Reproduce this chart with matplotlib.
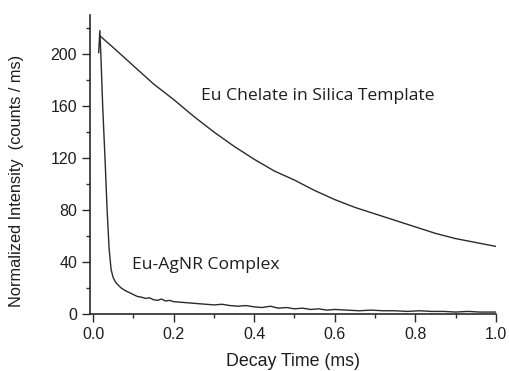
import matplotlib

matplotlib.use("Agg")

import matplotlib.pyplot as plt
from matplotlib import ticker

LINE = "#2B2B2B"
TEXT = "#1E1E1E"

# Eu chelate in silica template (slow decay)
chelate_t = [0.017, 0.05, 0.10, 0.15, 0.20, 0.25, 0.30, 0.35, 0.40, 0.45, 0.50,
             0.55, 0.60, 0.65, 0.70, 0.75, 0.80, 0.85, 0.90, 0.95, 1.00]
chelate_i = [214, 205, 191, 177, 165, 152, 140, 129, 119, 110, 103,
             95, 88, 82, 77, 72, 67, 62, 58, 55, 52]

# Eu-AgNR complex (fast decay, noisy tail)
agnr_t = [0.014, 0.017, 0.020, 0.024, 0.030, 0.035, 0.040, 0.045, 0.050, 0.055, 0.06,
          0.07, 0.08, 0.09, 0.10, 0.11, 0.12, 0.13, 0.14, 0.15, 0.16, 0.17, 0.18,
          0.19, 0.20, 0.22, 0.24, 0.26, 0.28, 0.30, 0.32, 0.34, 0.36, 0.38, 0.40,
          0.42, 0.44, 0.46, 0.48, 0.50, 0.52, 0.54, 0.56, 0.58, 0.60, 0.63, 0.66,
          0.69, 0.72, 0.75, 0.78, 0.81, 0.84, 0.87, 0.90, 0.93, 0.96, 1.00]
agnr_i = [201, 218, 195, 160, 118, 80, 50, 34, 28, 25, 23,
          20, 18, 16.5, 15, 13.5, 13, 12, 12.5, 11, 10.5, 11.5, 10,
          10.5, 9.5, 9, 8.5, 8, 7.5, 7, 7.5, 6.5, 6, 6.5, 5.5,
          5, 6, 4.5, 5, 4, 4.5, 3.5, 4, 3, 3.5, 3, 2.5,
          3, 2.5, 2.5, 2, 2.5, 2, 2, 1.5, 2, 1.5, 1.5]

X_TICKS = [0.0, 0.2, 0.4, 0.6, 0.8, 1.0]
Y_TICKS = [0, 40, 80, 120, 160, 200]

plt.rcParams.update({
    "font.family": ["Liberation Sans", "DejaVu Sans"],
    "font.size": 11.5,
    "axes.edgecolor": LINE,
    "xtick.color": LINE,
    "ytick.color": LINE,
})

fig = plt.figure(figsize=(5.10, 3.71), dpi=100)
ax = fig.add_axes([0.1755, 0.1536, 0.797, 0.806])

ax.plot(chelate_t, chelate_i, color=LINE, lw=1.0)
ax.plot(agnr_t, agnr_i, color=LINE, lw=1.0)

ax.set_xlim(-0.0087, 1.0)
ax.set_ylim(0, 230)
ax.set_xticks(X_TICKS)
ax.set_yticks(Y_TICKS)
ax.xaxis.set_major_formatter(ticker.FormatStrFormatter("%.1f"))
ax.xaxis.set_minor_locator(ticker.MultipleLocator(0.1))
ax.yaxis.set_minor_locator(ticker.MultipleLocator(20))
ax.tick_params(which="major", direction="out", length=5.5, width=1, labelsize=11.5, colors=LINE,
               labelcolor=TEXT)
ax.tick_params(which="minor", direction="out", length=3, width=1, colors=LINE)

for side in ("top", "right"):
    ax.spines[side].set_visible(False)
for side in ("left", "bottom"):
    ax.spines[side].set_linewidth(1.2)

fig.text(293.5 / 510, 1 - 361 / 371, "Decay Time (ms)", fontsize=12.8, color=TEXT,
         ha="center", va="center")
fig.text(17 / 510, 1 - 181 / 371, "Normalized Intensity  (counts / ms)", fontsize=11.8,
         color=TEXT, ha="center", va="center", rotation=90)

ax.text(0.267, 168, "Eu Chelate in Silica Template", fontsize=12.6, color=TEXT,
        family=["Open Sans", "DejaVu Sans"], va="center", ha="left")
ax.text(0.096, 38, "Eu-AgNR Complex", fontsize=12.6, color=TEXT,
        family=["Open Sans", "DejaVu Sans"], va="center", ha="left")

fig.savefig("out.png", dpi=100)
